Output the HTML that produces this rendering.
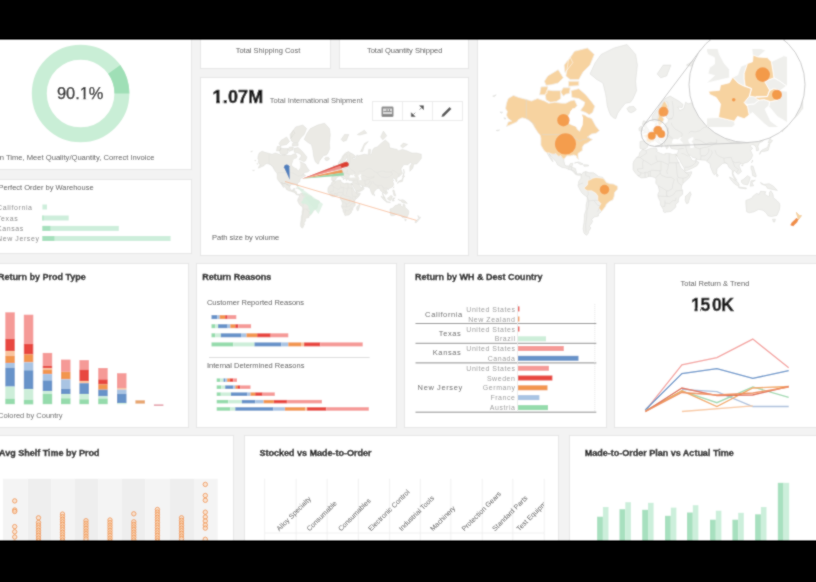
<!DOCTYPE html>
<html><head><meta charset="utf-8"><title>Dashboard</title>
<style>
html,body{margin:0;padding:0;}
body{width:816px;height:582px;overflow:hidden;background:#f3f3f3;font-family:"Liberation Sans",sans-serif;}
svg{display:block;}
</style></head><body>
<svg width="816" height="582" viewBox="0 0 816 582"><defs><filter id="bl" x="0" y="0" width="816" height="582" filterUnits="userSpaceOnUse"><feConvolveMatrix order="3" kernelMatrix="1 2 1 2 12 2 1 2 1" divisor="24" edgeMode="duplicate"/></filter></defs><g filter="url(#bl)"><rect width="816" height="582" fill="#f3f3f3"/><rect x="-19.5" y="20.5" width="211" height="149" fill="#fff" stroke="#e6e6e6" stroke-width="1"/>
<rect x="-19.5" y="179.5" width="211" height="74" fill="#fff" stroke="#e6e6e6" stroke-width="1"/>
<rect x="200.5" y="20.5" width="130" height="48" fill="#fff" stroke="#e6e6e6" stroke-width="1"/>
<rect x="339.5" y="20.5" width="129" height="48" fill="#fff" stroke="#e6e6e6" stroke-width="1"/>
<rect x="200.5" y="77.5" width="268" height="178" fill="#fff" stroke="#e6e6e6" stroke-width="1"/>
<rect x="477.5" y="20.5" width="359" height="235" fill="#fff" stroke="#e6e6e6" stroke-width="1"/>
<rect x="-19.5" y="263.5" width="208" height="164" fill="#fff" stroke="#e6e6e6" stroke-width="1"/>
<rect x="196.5" y="263.5" width="200" height="164" fill="#fff" stroke="#e6e6e6" stroke-width="1"/>
<rect x="404.5" y="263.5" width="202" height="164" fill="#fff" stroke="#e6e6e6" stroke-width="1"/>
<rect x="614.5" y="263.5" width="221" height="164" fill="#fff" stroke="#e6e6e6" stroke-width="1"/>
<rect x="-19.5" y="435.5" width="253" height="129" fill="#fff" stroke="#e6e6e6" stroke-width="1"/>
<rect x="244.5" y="435.5" width="314" height="129" fill="#fff" stroke="#e6e6e6" stroke-width="1"/>
<rect x="569.5" y="435.5" width="279" height="129" fill="#fff" stroke="#e6e6e6" stroke-width="1"/>
<circle cx="80.6" cy="93.5" r="41.3" fill="none" stroke="#c9eed6" stroke-width="15.0"/>
<path d="M114.18,69.46 A41.3,41.3 0 0 1 121.90,93.50" fill="none" stroke="#9fdfb6" stroke-width="15.0"/>
<text x="80.2" y="99.0" font-family="Liberation Sans, sans-serif" font-size="16.4" fill="#111" stroke="#111" stroke-width="0.25" text-anchor="middle">90.1%</text>
<text x="154.5" y="159.5" font-family="Liberation Sans, sans-serif" font-size="7.6" fill="#555" text-anchor="end">On Time, Meet Quality/Quantity, Correct Invoice</text>
<rect x="79.5" y="96.6" width="4" height="3.2" fill="#fff"/><rect x="85.6" y="96.6" width="3.4" height="3.2" fill="#fff"/>
<text x="93.6" y="189.6" font-family="Liberation Sans, sans-serif" font-size="7.5" fill="#555" text-anchor="end">Perfect Order by Warehouse</text>
<text x="-3" y="209.5" font-family="Liberation Sans, sans-serif" font-size="7" letter-spacing="0.6" fill="#888">California</text>
<rect x="42.4" y="204.5" width="4.6" height="5" fill="#cdeedb"/>
<text x="-3" y="220.5" font-family="Liberation Sans, sans-serif" font-size="7" letter-spacing="0.6" fill="#888">Texas</text>
<rect x="42.4" y="215.5" width="26.3" height="5" fill="#cdeedb"/>
<rect x="42.4" y="215.5" width="1.0" height="5" fill="#a6e0bd"/>
<text x="-3" y="230.9" font-family="Liberation Sans, sans-serif" font-size="7" letter-spacing="0.6" fill="#888">Kansas</text>
<rect x="42.4" y="225.9" width="76.4" height="5" fill="#cdeedb"/>
<rect x="42.4" y="225.9" width="8.0" height="5" fill="#a6e0bd"/>
<text x="-3" y="241.0" font-family="Liberation Sans, sans-serif" font-size="7" letter-spacing="0.6" fill="#888">New Jersey</text>
<rect x="42.4" y="236.0" width="128.2" height="5" fill="#cdeedb"/>
<rect x="42.4" y="236.0" width="12.0" height="5" fill="#a6e0bd"/>
<text x="268" y="53" font-family="Liberation Sans, sans-serif" font-size="7.5" fill="#555" text-anchor="middle">Total Shipping Cost</text>
<text x="404.7" y="53" font-family="Liberation Sans, sans-serif" font-size="7.5" fill="#555" text-anchor="middle">Total Quantity Shipped</text>
<text x="212.5" y="103" font-family="Liberation Sans, sans-serif" font-size="18" font-weight="bold" fill="#151515" stroke="#151515" stroke-width="0.5" letter-spacing="0.2">1.07M</text>
<rect x="211.5" y="99.7" width="4.6" height="4.3" fill="#fff"/><rect x="219.9" y="99.7" width="2.6" height="4.3" fill="#fff"/>
<text x="269.8" y="103" font-family="Liberation Sans, sans-serif" font-size="7.5" fill="#666">Total International Shipment</text>
<rect x="372.5" y="101.5" width="90" height="19" fill="#fff" stroke="#ebebeb"/>
<line x1="402.5" y1="102" x2="402.5" y2="120" stroke="#ededed"/><line x1="432.5" y1="102" x2="432.5" y2="120" stroke="#ededed"/>
<rect x="381.5" y="106.6" width="12" height="10.4" rx="1.2" fill="#8a8a8a"/><rect x="383" y="108.5" width="9" height="5.5" fill="#d8d8d8"/><rect x="383.5" y="111" width="8" height="1" fill="#8a8a8a"/><rect x="386.5" y="109" width="1" height="2" fill="#8a8a8a"/><rect x="389" y="109" width="1" height="2" fill="#8a8a8a"/>
<path d="M423.5,105.8 L423.5,109.6 L419.7,105.8 Z M419.6,109.7 L421.4,107.9" fill="#555" stroke="#555" stroke-width="0.7"/>
<path d="M411.3,116.6 L411.3,112.8 L415.1,116.6 Z M415.2,112.7 L413.4,114.5" fill="#555" stroke="#555" stroke-width="0.7"/>
<path d="M443,115.5 L450.5,108" stroke="#555" stroke-width="2.6" stroke-linecap="butt"/><path d="M441.5,117 L442.2,114.3 L444.2,116.3 Z" fill="#555"/>
<path d="M254.7,160.3L256.1,160.5L255.4,161.0ZM256.8,163.5L258.0,163.8L257.3,164.3ZM252.6,170.4L254.5,170.2L253.5,170.7ZM257.8,158.4L258.3,155.5L259.2,153.0L262.1,151.2L264.9,152.3L269.2,153.4L272.0,154.3L275.3,153.0L279.1,154.3L281.5,155.5L284.8,154.9L288.6,155.5L291.0,155.5L293.3,154.3L295.7,153.6L297.1,156.7L295.2,159.0L294.3,160.0L292.4,162.1L291.4,164.9L292.4,166.6L294.3,167.4L296.7,168.2L297.1,169.8L298.6,170.9L299.5,168.2L299.5,164.0L299.0,161.6L301.4,162.1L302.8,163.0L305.2,164.0L306.6,166.6L307.6,168.2L309.5,170.6L307.6,172.0L305.2,172.4L302.8,174.1L305.7,175.4L304.7,176.1L302.8,177.3L300.9,178.2L300.0,179.7L300.0,181.4L297.6,183.1L297.6,185.2L298.1,186.5L297.1,185.7L296.7,184.4L295.2,183.9L293.3,184.4L291.4,184.4L289.9,186.3L288.8,185.5L288.1,184.3L287.2,184.7L286.5,184.4L285.5,183.2L284.8,183.5L283.4,183.5L281.6,182.7L280.5,182.8L279.1,181.7L278.2,180.3L277.2,178.5L277.2,176.7L277.2,174.8L276.8,173.1L275.3,171.3L273.9,169.0L272.5,166.6L270.6,164.9L268.7,164.0L266.8,163.5L264.9,164.4L264.0,165.7L262.1,166.6L260.2,167.4L258.3,168.2L259.2,165.7L261.1,165.3L259.2,164.0L258.3,162.1L258.7,160.0ZM280.5,182.8L281.6,182.7L283.4,183.5L284.8,183.5L285.5,183.2L286.5,184.4L287.2,184.7L288.1,184.3L288.8,185.5L289.9,186.3L289.8,187.2L290.5,189.7L291.4,190.0L292.9,190.0L293.3,188.7L294.8,188.5L294.3,190.7L296.2,191.4L296.7,193.1L297.1,194.5L299.0,194.2L299.5,194.9L298.1,195.1L296.7,194.8L295.2,193.5L294.3,192.3L292.4,191.9L291.0,191.2L288.6,190.7L286.2,189.2L285.8,187.7L284.3,186.5L282.9,184.7L281.7,183.4L282.4,184.7L283.4,186.2L283.9,187.7L282.9,186.7L282.0,185.2L281.0,183.6ZM304.2,139.4L307.1,133.2L310.4,128.6L317.5,125.1L324.6,123.2L329.4,128.6L330.3,134.5L329.4,143.4L329.8,148.6L327.9,153.0L326.5,154.9L323.7,155.5L321.3,158.4L319.4,161.1L318.5,164.0L317.0,163.5L315.6,162.1L314.7,160.0L313.7,156.7L313.2,153.0L312.8,150.1L311.4,144.4L308.0,142.5ZM324.6,158.4L325.6,157.4L328.4,157.3L329.6,159.0L328.9,159.7L327.0,160.7L325.6,160.3ZM299.5,194.7L300.4,193.5L301.9,193.1L303.8,193.8L306.1,193.8L307.6,194.7L309.0,195.8L311.4,196.3L312.3,197.7L313.2,199.1L315.1,199.7L317.0,200.0L319.4,201.1L319.4,202.7L317.8,204.6L317.5,206.8L316.8,208.7L315.1,209.5L313.2,211.0L312.8,212.3L311.4,214.1L309.9,215.8L308.7,216.3L309.0,217.5L306.6,218.1L305.2,219.3L305.7,220.5L304.7,222.1L303.8,223.1L304.7,224.1L303.5,225.9L303.3,227.0L302.3,228.2L300.9,227.0L300.4,224.5L300.9,221.1L301.2,218.7L301.2,216.9L302.1,214.1L302.1,211.5L302.6,209.5L302.8,207.2L301.9,206.5L300.0,205.1L299.0,203.7L298.1,201.8L297.6,200.9L297.8,199.7L298.1,198.4L298.6,197.7L299.3,196.8L299.3,195.4ZM331.7,180.3L331.7,179.1L331.7,176.7L332.2,176.3L335.1,176.4L335.3,174.8L333.9,173.4L335.3,172.7L336.7,171.7L337.9,170.9L338.8,169.4L340.0,169.0L340.0,167.0L341.0,166.0L341.0,167.8L341.9,168.6L342.6,169.0L344.5,168.4L346.0,167.8L346.0,166.6L347.1,166.2L347.4,164.4L349.5,164.0L346.9,164.0L346.2,163.0L346.2,161.1L347.9,159.0L346.4,158.1L344.5,161.1L344.1,163.0L345.0,164.1L343.8,166.6L342.6,167.8L342.1,167.4L341.2,165.3L339.8,165.7L338.6,165.3L338.4,163.0L339.3,161.6L341.7,158.4L342.6,156.1L344.1,154.3L345.5,153.0L348.3,151.6L350.7,153.0L353.1,154.3L355.4,156.1L355.0,157.9L352.6,157.5L353.5,159.5L355.9,158.4L356.9,154.9L358.3,155.8L361.6,154.9L364.4,154.3L368.2,154.9L368.7,149.4L370.6,149.4L370.1,154.9L371.6,154.3L372.5,150.1L374.4,147.8L377.2,147.0L381.0,143.4L385.3,140.0L389.1,143.4L389.6,147.8L392.9,148.6L397.1,149.4L398.6,150.9L402.4,149.4L407.1,150.9L411.8,153.0L416.6,153.0L421.3,154.3L421.3,158.4L420.4,159.5L418.9,161.6L416.6,164.0L413.7,164.1L413.3,166.2L412.8,168.2L409.9,171.3L409.9,166.2L411.8,163.5L410.4,162.3L408.0,164.7L403.8,164.6L400.9,169.0L402.4,173.4L399.0,176.7L397.6,177.0L396.7,179.1L397.1,181.3L396.0,181.7L395.7,180.0L395.0,178.7L393.4,178.1L392.4,179.1L393.8,180.3L392.6,181.4L393.4,183.1L393.8,184.2L392.9,186.2L391.2,187.7L388.4,188.7L387.2,188.5L386.2,190.0L387.7,193.1L385.8,194.6L384.8,193.8L383.6,192.3L382.9,194.0L383.6,195.6L385.1,197.9L383.9,197.3L382.7,194.9L382.5,192.1L380.8,190.9L379.8,188.7L378.7,188.2L377.0,188.7L376.3,189.5L374.2,191.4L373.9,193.8L372.7,194.9L372.0,194.0L370.6,190.7L370.4,188.7L369.2,188.0L367.8,186.8L365.2,186.6L363.0,186.3L362.8,185.7L360.6,185.2L359.7,184.2L358.8,184.2L359.9,186.0L360.4,187.0L361.6,187.2L362.5,186.7L362.7,186.1L362.8,187.2L364.2,188.0L363.3,189.7L360.6,191.2L357.3,192.7L356.4,192.6L356.1,191.2L354.5,188.5L353.8,187.0L352.6,185.2L352.4,184.4L351.4,184.2L351.4,183.5L352.4,183.4L352.6,182.5L353.1,181.0L351.6,180.8L350.2,180.6L348.8,180.3L348.3,178.5L346.9,178.5L347.4,179.7L346.4,180.6L346.0,179.4L345.2,178.2L345.2,177.3L343.6,176.4L342.4,175.1L341.8,175.4L342.6,177.0L343.6,177.6L344.8,178.4L343.8,179.1L343.6,179.7L343.4,178.5L341.7,177.3L341.0,176.7L340.0,175.9L338.8,176.7L337.4,176.5L337.4,177.3L336.0,178.8L335.8,179.7L335.1,180.5L333.4,180.9ZM327.9,188.7L328.4,187.2L329.8,185.5L331.3,184.4L331.5,182.8L333.2,181.0L335.1,181.4L337.4,180.4L340.7,180.1L341.2,181.4L340.7,182.0L343.1,183.1L345.5,183.9L345.5,183.1L347.9,183.1L349.7,183.7L351.4,183.5L352.4,184.4L351.4,184.7L352.6,187.2L353.8,190.0L354.5,191.4L356.4,192.8L357.1,193.8L360.2,193.1L360.2,194.0L359.0,196.3L357.3,197.9L355.4,199.5L354.7,200.9L354.5,202.3L355.2,203.4L355.2,205.6L353.3,207.2L352.8,208.7L352.8,210.0L351.4,211.0L351.4,212.5L350.2,213.8L348.8,215.0L346.4,215.3L345.5,215.7L344.7,215.2L344.5,213.8L343.1,211.5L342.9,209.5L341.7,207.0L341.6,205.6L342.4,203.9L342.2,202.5L341.7,200.9L340.5,199.5L340.5,198.1L340.6,197.0L340.0,196.5L338.4,195.8L336.7,195.7L335.1,196.4L332.4,196.6L330.5,195.4L329.6,194.2L328.9,193.5L327.9,191.9ZM390.0,209.0L390.0,211.0L390.5,215.2L391.9,215.8L394.5,215.2L397.1,213.8L399.5,214.4L401.2,215.8L402.4,217.5L404.3,217.8L405.7,217.5L407.1,217.2L408.5,214.1L408.8,212.0L408.5,210.5L407.3,209.2L405.2,207.5L405.0,205.6L403.8,203.7L403.1,204.6L403.1,206.5L402.4,206.8L400.5,205.6L400.9,204.1L398.1,203.9L397.4,205.6L396.0,205.1L393.8,206.8L393.4,207.7L391.5,208.5ZM306.8,157.3L305.7,160.6L303.8,161.8L301.9,160.6L299.0,159.5L300.9,156.7L301.4,154.9L298.1,153.0L294.3,152.3L293.8,148.6L298.1,147.5L301.9,150.9L304.7,154.3L306.6,156.7ZM279.6,150.9L280.5,148.1L283.9,148.6L288.1,148.6L288.1,153.0L285.8,154.5L282.4,154.9L280.1,153.6ZM276.5,150.9L277.2,146.5L281.0,146.3L280.5,150.1L279.1,150.9ZM293.3,142.5L298.1,142.5L300.4,138.2L304.2,134.5L306.6,128.6L302.8,125.1L295.7,126.9L292.4,131.7L291.0,140.4ZM292.4,143.4L298.1,143.4L298.1,145.8L292.4,146.1ZM279.1,143.4L281.0,140.4L286.7,137.0L289.5,141.5L286.7,144.4L282.9,145.3L280.1,145.6ZM290.5,138.7L294.8,133.2L293.3,130.2L290.0,134.5ZM288.1,149.4L289.5,147.0L293.3,147.0L292.9,150.1L291.0,150.4L289.5,151.6ZM294.8,158.4L297.6,159.5L296.7,161.6L295.2,160.6ZM359.4,204.1L359.9,205.8L359.5,206.5L358.8,209.0L358.3,210.5L357.3,210.7L356.6,209.0L356.9,206.5L357.8,205.9L358.8,204.9ZM333.4,172.0L336.7,171.3L336.7,170.2L336.0,169.4L335.3,168.2L335.1,167.4L335.1,166.1L334.3,165.2L333.6,165.2L333.1,167.0L333.6,168.2L334.6,168.6L334.6,169.5L333.9,170.0L333.6,170.8L334.6,171.0ZM333.2,170.6L333.2,169.0L332.4,168.0L331.3,169.0L331.3,170.6L332.2,170.9ZM397.6,183.6L398.6,182.0L400.0,182.0L402.4,181.4L402.8,179.7L403.3,177.6L402.4,178.2L402.1,179.7L400.9,180.3L399.0,181.1L397.9,182.3ZM402.4,177.3L403.1,175.1L404.7,176.1L403.8,177.3ZM381.0,196.1L382.5,196.8L385.3,198.6L386.2,200.0L386.2,201.4L383.9,200.0L381.5,197.2ZM386.0,201.6L390.3,202.1L390.3,202.6L386.2,202.1ZM387.7,197.9L388.6,197.5L391.0,195.4L392.4,196.3L391.9,198.1L391.0,200.4L388.6,200.0L387.7,199.1ZM392.4,201.1L392.9,198.1L395.2,197.9L393.4,199.1L394.3,200.9ZM398.1,199.1L400.0,200.2L402.8,199.7L405.2,201.1L407.3,203.4L403.8,202.7L401.9,202.3L401.2,200.9L398.6,200.0ZM392.9,190.0L394.1,190.2L394.8,192.8L395.7,195.4L395.5,196.1L393.8,195.4L393.4,192.6L392.9,191.6ZM404.7,219.3L406.3,219.3L405.9,220.8L405.2,220.8ZM373.9,194.1L374.9,195.1L374.4,195.8L373.9,195.6ZM360.6,151.6L362.1,148.6L364.4,143.4L368.2,141.5L364.4,146.1L362.5,151.6ZM341.2,139.4L344.5,134.5L348.8,134.5L346.4,140.4L343.1,141.5ZM295.7,188.3L298.1,187.7L300.4,189.0L299.0,189.2L297.1,188.0ZM300.7,189.3L303.3,189.5L303.5,190.0L300.9,190.2ZM403.3,174.8L404.0,172.0L403.5,169.0L403.8,169.8L404.3,172.7L403.7,174.8ZM393.1,188.2L393.8,186.7L393.6,187.7ZM388.1,190.1L388.6,189.3L387.6,189.5ZM357.3,134.5L364.4,130.2L366.8,133.2L359.7,135.1ZM380.6,137.0L383.4,131.1L386.7,135.8L382.9,139.8ZM400.5,146.1L403.3,143.1L407.6,144.4L402.8,147.8ZM250.7,151.6L252.6,150.9L251.6,151.9ZM417.9,215.5L419.4,217.2L420.6,217.3L419.9,218.4L418.9,219.6L418.7,218.1L418.2,216.9ZM417.9,219.0L418.6,219.6L418.0,220.8L417.1,221.8L416.1,222.8L414.9,222.4L415.6,221.1L417.1,219.9Z" fill="#ebeae5" stroke="#d5d5d0" stroke-width="0.4"/>
<path d="M358.3,175.4L359.7,174.4L361.1,174.1L361.1,175.4L360.2,176.7L361.1,177.6L361.6,179.7L359.7,180.3L359.2,179.4L359.5,178.2L358.5,176.7ZM349.3,177.6L349.5,176.4L350.2,175.1L351.6,175.1L352.6,175.4L354.0,174.1L354.7,174.1L353.8,175.6L355.7,177.6L353.1,177.6L350.9,177.8ZM293.3,160.0L292.6,164.0L293.8,167.0L296.7,168.4L298.6,170.2L300.2,167.4L300.4,163.5L299.5,161.1L297.1,158.4L294.8,158.4Z" fill="#fff"/>
<path d="M335.2,181.4L335.3,183.1L331.9,185.2L331.9,185.4L329.8,185.4M331.9,185.4L333.6,186.7L333.2,188.5L333.4,191.4L330.3,191.6M333.6,186.7L336.9,188.7L337.9,189.5L341.7,187.5M340.5,184.2L340.7,186.7L341.7,187.5M347.9,183.4L347.9,188.2L353.5,188.2M347.9,188.2L347.4,189.2L343.6,187.5L341.7,187.5M343.3,187.7L343.3,192.6L342.6,192.8M337.4,195.6L337.4,193.1L337.9,192.3L342.6,192.6L342.9,194.0L341.7,195.4L340.3,196.5M347.4,189.2L347.1,191.4L346.4,192.8L346.9,194.5M342.9,194.0L343.6,195.1L346.4,196.3L349.0,196.3M351.6,188.2L352.1,194.0L352.6,196.3L355.4,196.8M356.4,193.3L358.8,194.9L357.3,196.3L355.4,196.8L355.4,199.3M352.1,196.5L352.6,199.1L354.7,200.7M341.7,200.9L344.3,202.3L346.4,203.7L347.4,203.7L349.5,202.5L349.7,200.4L350.2,198.6L350.7,197.5L349.0,196.3M341.6,206.5L345.5,206.8L347.1,206.8M346.4,203.7L346.4,206.5L347.9,206.9L350.2,205.8L351.6,203.7L355.2,203.4M345.5,209.0L345.5,210.3L348.1,210.7L350.0,209.0L351.2,209.2L351.6,207.5M344.1,212.3L345.5,212.3L345.5,210.3M330.3,191.6L330.5,192.8L332.2,193.8L333.6,194.0L334.6,193.5L336.0,193.5L336.7,192.8L337.4,193.1M334.6,196.3L334.6,193.5M336.5,195.8L336.2,193.5M330.5,195.4L332.2,194.9L332.2,193.8M349.5,164.0L350.2,162.1L350.0,157.3L349.5,154.3M347.4,157.9L347.1,154.9L345.7,154.3M341.2,164.9L341.7,163.0L342.6,159.0L344.5,154.9L345.5,154.3M349.0,166.2L349.3,167.4L351.2,169.8L352.1,170.2L355.0,172.0L355.0,173.4L354.0,174.1M347.4,170.9L346.7,172.7L348.3,173.4L350.0,175.1M358.5,172.0L359.7,170.9L362.1,171.3L364.9,170.6L366.3,169.0L369.2,168.2L372.0,169.0L373.9,171.3L377.2,172.7M377.2,172.7L379.6,171.7L382.5,170.9L386.2,172.0L391.0,172.0L392.9,170.2L396.2,172.0L398.1,173.8L399.5,173.4L398.1,176.7M377.2,172.7L379.1,175.4L381.5,177.0L385.8,177.6L389.1,177.0L392.9,174.1L391.0,172.0M373.9,175.4L373.9,177.3L370.8,178.8L368.2,179.7L367.3,179.7L364.4,180.6L362.1,179.7L361.6,177.6M362.1,175.4L364.4,175.7L368.2,177.9L370.1,177.0L373.9,177.3M356.9,178.8L357.1,180.3L357.8,182.5L358.8,184.2M353.1,180.6L355.9,180.3M354.5,183.1L355.9,183.4L358.3,184.7M356.4,190.7L358.3,190.7L360.6,189.7L362.3,188.2L362.5,187.2M364.9,180.3L364.9,183.6L365.4,184.4L365.2,186.7M369.7,180.3L369.7,182.0L368.9,183.4L367.5,184.4L365.4,184.4M371.1,181.4L371.6,182.8L370.1,185.5L369.2,186.2L368.7,187.2M373.0,181.1L373.9,183.6L375.8,184.9L377.9,185.7L379.6,185.5L382.0,185.2M382.0,185.2L382.7,187.2L384.1,188.2L386.5,187.9L387.2,188.5M382.7,187.2L383.4,189.0L383.9,190.4L386.0,191.9L384.8,193.8M377.9,185.7L378.2,188.2L379.8,188.7M301.9,193.1L301.9,195.4L304.0,195.8L304.2,197.7M298.1,200.2L300.4,199.3M303.1,203.7L303.3,205.6L302.6,207.0L303.5,209.0L303.5,211.5L302.6,214.7L302.3,218.7L301.9,222.4L302.1,226.6M308.5,209.0L306.4,209.0L308.5,211.7L309.7,211.7L308.5,215.2M303.5,209.2L306.4,209.0M292.4,191.9L292.9,190.4L293.8,190.3L294.1,191.2L293.8,192.1L295.2,192.6L296.2,193.5L296.7,194.7M277.7,172.7L291.0,172.7L293.8,173.4L296.7,175.1L298.6,176.4L300.4,175.4L302.3,175.4L303.3,173.8L304.2,175.4M269.2,153.4L269.2,163.7L271.1,164.9L274.4,167.8M336.9,171.3L338.8,172.0L339.8,173.8L342.6,174.1L344.1,173.1L346.4,173.1L349.3,175.1M339.8,173.8L339.3,176.1L337.4,177.0M342.6,169.0L343.1,171.3L341.7,172.0L342.4,173.1M347.4,169.0L347.4,172.0L346.7,172.7" fill="none" stroke="#dcdcd9" stroke-width="0.35"/>
<path d="M307.6,196.3L311.4,196.8L312.3,197.7L313.2,199.1L315.1,199.7L317.0,200.0L319.4,201.1L319.4,202.7L317.8,204.6L317.5,206.8L316.8,208.7L315.1,209.5L313.2,211.0L312.8,212.3L310.6,215.0L309.0,213.0L310.2,210.7L308.5,209.0L308.5,206.5L307.3,204.9L305.2,203.7L302.8,203.7L301.6,203.0L300.9,202.1L302.8,200.4L303.1,197.9L304.2,197.7L305.7,196.8Z" fill="#d7efdf" opacity="0.9"/>
<path d="M295,184 L323,204 L318.5,214 Z" fill="#d6eedd" opacity="0.7"/>
<path d="M285,181.5 L416.5,220.4" stroke="#f7b890" stroke-width="0.8" fill="none"/>
<path d="M302,178.7 L345.5,161.8 A2.6,2.6 0 0 1 347,166.8 Z" fill="#dc3f33"/>
<path d="M302,178.7 L340.5,165.5 L342,169 Z" fill="#f2a19a" opacity="0.8"/>
<path d="M302,178.7 L342,169.8 L343,172.8 Z" fill="#f0954f"/>
<path d="M302,178.7 L343.5,172.6 L344,175.6 Z" fill="#98d6a8"/>
<path d="M289.8,179.8 L283.9,167.2 A2.9,2.9 0 0 1 289.4,166.2 Z" fill="#4f7fbd"/>
<text x="212" y="240" font-family="Liberation Sans, sans-serif" font-size="7.5" fill="#555">Path size by volume</text>
<path d="M500.0,111.9L502.6,112.3L501.3,113.2ZM503.9,117.8L506.1,118.3L504.8,119.3ZM496.2,130.4L499.6,130.0L497.9,130.9ZM505.6,108.6L506.5,103.3L508.2,98.6L513.4,95.4L518.6,97.4L526.3,99.4L531.5,101.0L537.5,98.6L544.4,101.0L548.7,103.3L554.7,102.2L561.6,103.3L565.9,103.3L570.2,101.0L574.5,99.9L577.1,105.5L573.7,109.6L571.9,111.5L568.5,115.2L566.8,120.3L568.5,123.4L571.9,125.0L576.2,126.4L577.1,129.3L579.7,131.3L581.4,126.4L581.4,118.6L580.5,114.3L584.8,115.2L587.4,117.0L591.7,118.6L594.3,123.4L596.0,126.4L599.5,130.6L596.0,133.3L591.7,133.9L587.4,137.1L592.6,139.5L590.9,140.6L587.4,142.9L584.0,144.6L582.3,147.3L582.3,150.4L578.0,153.4L578.0,157.3L578.8,159.6L577.1,158.2L576.2,155.8L573.7,154.9L570.2,155.8L566.8,155.8L564.0,159.2L562.0,157.7L560.7,155.5L559.0,156.3L557.7,155.8L556.0,153.6L554.7,154.1L552.1,154.1L548.9,152.7L547.0,152.9L544.4,150.9L542.7,148.3L540.9,145.1L540.9,141.8L540.9,138.3L540.1,135.2L537.5,132.0L534.9,127.9L532.3,123.4L528.9,120.3L525.4,118.6L522.0,117.8L518.6,119.5L516.8,121.9L513.4,123.4L509.9,125.0L506.5,126.4L508.2,121.9L511.7,121.1L508.2,118.6L506.5,115.2L507.4,111.5ZM547.0,152.9L548.9,152.7L552.1,154.1L554.7,154.1L556.0,153.6L557.7,155.8L559.0,156.3L560.7,155.5L562.0,157.7L564.0,159.2L563.8,161.0L565.0,165.5L566.8,165.9L569.3,165.9L570.2,163.7L572.8,163.2L571.9,167.2L575.4,168.5L576.2,171.5L577.1,174.1L580.5,173.6L581.4,174.9L578.8,175.3L576.2,174.7L573.7,172.4L571.9,170.2L568.5,169.4L565.9,168.1L561.6,167.2L557.3,164.6L556.4,161.9L553.9,159.6L551.3,156.3L549.1,153.9L550.4,156.3L552.1,159.1L553.0,161.9L551.3,160.0L549.5,157.3L547.8,154.4ZM590.0,73.9L595.2,62.7L601.2,54.4L614.1,48.0L627.0,44.5L635.6,54.4L637.4,65.1L635.6,81.3L636.5,90.7L633.1,98.6L630.5,102.2L625.3,103.3L621.0,108.6L617.6,113.4L615.8,118.6L613.3,117.8L610.7,115.2L609.0,111.5L607.2,105.5L606.4,98.6L605.5,93.5L602.9,83.0L596.9,79.6ZM627.0,108.6L628.8,106.8L633.9,106.5L636.1,109.6L634.8,111.0L631.3,112.7L628.8,111.9ZM581.4,174.5L583.1,172.4L585.7,171.5L589.2,172.8L593.5,172.8L596.0,174.5L598.6,176.6L602.9,177.4L604.7,179.9L606.4,182.4L609.8,183.7L613.3,184.1L617.6,186.2L617.6,189.1L614.6,192.5L614.1,196.4L612.8,200.0L609.8,201.3L606.4,204.1L605.5,206.4L602.9,209.8L600.3,212.8L598.2,213.8L598.6,215.9L594.3,217.0L591.7,219.2L592.6,221.4L590.9,224.3L589.2,226.1L590.9,228.0L588.7,231.2L588.3,233.2L586.6,235.3L584.0,233.2L583.1,228.6L584.0,222.6L584.4,218.1L584.4,214.9L586.1,209.8L586.1,205.0L587.0,201.3L587.4,197.3L585.7,196.0L582.3,193.4L580.5,190.8L578.8,187.5L578.0,185.8L578.4,183.7L578.8,181.2L579.7,179.9L581.0,178.3L581.0,175.7ZM640.0,148.3L640.0,146.2L640.0,141.8L640.8,141.0L646.0,141.3L646.4,138.3L643.8,135.8L646.4,134.6L649.0,132.6L651.1,131.3L652.9,128.6L655.0,127.9L655.0,124.2L656.7,122.4L656.7,125.7L658.5,127.2L659.8,127.9L663.2,126.7L665.8,125.7L665.8,123.4L667.9,122.7L668.4,119.5L672.2,118.6L667.5,118.6L666.2,117.0L666.2,113.4L669.2,109.6L666.6,108.0L663.2,113.4L662.3,117.0L664.1,119.0L661.9,123.4L659.8,125.7L658.7,125.0L657.2,121.1L654.6,121.9L652.4,121.1L652.0,117.0L653.7,114.3L658.0,108.6L659.8,104.4L662.3,101.0L664.9,98.6L670.1,96.1L674.4,98.6L678.7,101.0L683.0,104.4L682.1,107.6L677.8,107.0L679.6,110.6L683.9,108.6L685.6,102.2L688.2,103.8L694.2,102.2L699.4,101.0L706.2,102.2L707.1,92.1L710.6,92.1L709.7,102.2L712.3,101.0L714.0,93.5L717.4,89.3L722.6,87.8L729.5,81.3L737.2,75.1L744.1,81.3L745.0,89.3L751.0,90.7L758.8,92.1L761.4,94.8L768.2,92.1L776.9,94.8L785.5,98.6L794.1,98.6L802.7,101.0L802.7,108.6L801.0,110.6L798.4,114.3L794.1,118.6L788.9,119.0L788.0,122.7L787.2,126.4L782.0,132.0L782.0,122.7L785.5,117.8L782.9,115.6L778.6,120.0L770.8,119.8L765.7,127.9L768.2,135.8L762.2,141.8L759.6,142.4L757.9,146.2L758.8,150.2L756.6,150.9L756.2,147.8L754.9,145.4L751.9,144.3L750.2,146.2L752.7,148.3L750.6,150.4L751.9,153.4L752.7,155.3L751.0,159.1L748.0,161.9L742.8,163.7L740.7,163.2L739.0,165.9L741.5,171.5L738.1,174.3L736.4,172.8L734.2,170.2L732.9,173.2L734.2,176.2L736.8,180.3L734.7,179.3L732.5,174.9L732.1,169.8L729.1,167.6L727.3,163.7L725.2,162.8L722.2,163.7L720.9,165.0L717.0,168.5L716.6,172.8L714.4,174.9L713.1,173.2L710.6,167.2L710.1,163.7L708.0,162.3L705.4,160.2L700.7,159.9L696.8,159.3L696.3,158.2L692.5,157.3L690.8,155.3L689.0,155.3L691.2,158.7L692.0,160.5L694.2,161.0L695.9,160.0L696.2,158.8L696.3,161.0L698.9,162.3L697.2,165.5L692.5,168.1L686.4,170.8L684.7,170.7L684.3,168.1L681.3,163.2L680.0,160.5L677.8,157.3L677.4,155.8L675.7,155.3L675.7,154.2L677.4,153.9L677.8,152.4L678.7,149.6L676.1,149.2L673.5,148.9L670.9,148.3L670.1,145.1L667.5,145.1L668.4,147.3L666.6,148.9L665.8,146.7L664.5,144.6L664.5,142.9L661.5,141.2L659.3,138.9L658.3,139.5L659.8,142.4L661.5,143.5L663.6,144.9L661.9,146.2L661.5,147.3L661.1,145.1L658.0,142.9L656.7,141.8L655.0,140.3L652.9,141.8L650.3,141.4L650.3,142.9L647.7,145.7L647.3,147.3L646.0,148.6L643.0,149.4ZM633.1,163.7L633.9,161.0L636.5,157.7L639.1,155.8L639.5,152.9L642.5,149.6L646.0,150.3L650.3,148.5L656.3,148.0L657.2,150.4L656.3,151.4L660.6,153.4L664.9,154.9L664.9,153.4L669.2,153.4L672.7,154.5L675.7,154.2L677.4,155.8L675.7,156.3L677.8,161.0L680.0,165.9L681.3,168.5L684.7,171.1L686.0,172.8L691.6,171.7L691.6,173.2L689.5,177.4L686.4,180.3L683.0,183.3L681.7,185.8L681.3,188.3L682.6,190.4L682.6,194.3L679.1,197.3L678.3,200.0L678.3,202.2L675.7,204.1L675.7,206.9L673.5,209.3L670.9,211.4L666.6,212.0L664.9,212.6L663.5,211.8L663.2,209.3L660.6,205.0L660.2,201.3L658.0,196.9L657.9,194.3L659.3,191.3L658.9,188.7L658.0,185.8L655.9,183.3L655.9,180.8L656.1,178.7L655.0,177.8L652.0,176.6L649.0,176.4L646.0,177.6L641.2,177.9L637.8,175.7L636.1,173.6L634.8,172.4L633.1,169.4ZM745.9,200.4L745.9,204.1L746.7,211.8L749.3,212.8L754.0,211.8L758.8,209.3L763.1,210.3L766.1,212.8L768.2,215.9L771.7,216.5L774.3,215.9L776.9,215.4L779.4,209.8L779.9,205.9L779.4,203.2L777.3,200.9L773.4,197.7L773.0,194.3L770.8,190.8L769.5,192.5L769.5,196.0L768.2,196.4L764.8,194.3L765.7,191.7L760.5,191.3L759.2,194.3L756.6,193.4L752.7,196.4L751.9,198.2L748.4,199.5ZM594.7,106.5L592.6,112.5L589.2,114.7L585.7,112.5L580.5,110.6L584.0,105.5L584.8,102.2L578.8,98.6L571.9,97.4L571.1,90.7L578.8,88.7L585.7,94.8L590.9,101.0L594.3,105.5ZM545.2,94.8L547.0,89.9L553.0,90.7L560.7,90.7L560.7,98.6L556.4,101.5L550.4,102.2L546.1,99.9ZM539.6,94.8L540.9,86.9L547.8,86.6L547.0,93.5L544.4,94.8ZM570.2,79.6L578.8,79.6L583.1,71.9L590.0,65.1L594.3,54.4L587.4,48.0L574.5,51.3L568.5,60.1L565.9,75.9ZM568.5,81.3L578.8,81.3L578.8,85.6L568.5,86.3ZM544.4,81.3L547.8,75.9L558.2,69.7L563.3,77.8L558.2,83.0L551.3,84.7L546.1,85.3ZM565.0,72.7L572.8,62.7L570.2,57.3L564.2,65.1ZM560.7,92.1L563.3,87.8L570.2,87.8L569.3,93.5L565.9,94.1L563.3,96.1ZM572.8,108.6L578.0,110.6L576.2,114.3L573.7,112.5ZM690.1,191.7L691.2,194.7L690.3,196.0L689.0,200.4L688.2,203.2L686.4,203.6L685.2,200.4L685.6,196.0L687.3,195.0L689.0,193.0ZM643.0,133.3L649.0,132.0L649.0,130.0L647.7,128.6L646.4,126.4L646.0,125.0L646.2,122.5L644.7,120.9L643.4,120.9L642.4,124.2L643.4,126.4L645.1,127.2L645.1,128.7L643.8,129.5L643.4,131.0L645.1,131.4ZM642.5,130.6L642.5,127.9L641.2,126.0L639.1,127.9L639.1,130.6L640.8,131.3ZM759.6,154.4L761.4,151.4L763.9,151.4L768.2,150.4L769.1,147.3L770.0,143.5L768.2,144.6L767.8,147.3L765.7,148.3L762.2,149.9L760.1,151.9ZM768.2,142.9L769.5,138.9L772.5,140.6L770.8,142.9ZM729.5,177.0L732.1,178.3L737.2,181.6L739.0,184.1L739.0,186.6L734.7,184.1L730.4,179.1ZM738.5,187.0L746.3,187.9L746.3,188.9L739.0,187.9ZM741.5,180.3L743.3,179.5L747.6,175.7L750.2,177.4L749.3,180.8L747.6,184.9L743.3,184.1L741.5,182.4ZM750.2,186.2L751.0,180.8L755.3,180.3L751.9,182.4L753.6,185.8ZM760.5,182.4L763.9,184.5L769.1,183.7L773.4,186.2L777.3,190.4L770.8,189.1L767.4,188.3L766.1,185.8L761.4,184.1ZM751.0,165.9L753.2,166.3L754.5,171.1L756.2,175.7L755.8,177.0L752.7,175.7L751.9,170.7L751.0,168.9ZM772.5,219.2L775.4,219.2L774.7,222.0L773.4,222.0ZM716.6,173.4L718.3,175.3L717.4,176.6L716.6,176.2ZM692.5,96.1L695.1,90.7L699.4,81.3L706.2,77.8L699.4,86.3L695.9,96.1ZM657.2,73.9L663.2,65.1L670.9,65.1L666.6,75.9L660.6,77.8ZM574.5,163.0L578.8,161.9L583.1,164.1L580.5,164.6L577.1,162.3ZM583.6,164.7L588.3,165.0L588.7,165.9L584.0,166.3ZM770.0,138.3L771.3,133.3L770.4,127.9L770.8,129.3L771.7,134.6L770.7,138.3ZM751.5,162.8L752.7,160.0L752.3,161.9ZM742.4,166.2L743.3,164.7L741.4,165.0ZM686.4,65.1L699.4,57.3L703.7,62.7L690.8,66.1ZM728.6,69.7L733.8,59.0L739.8,67.5L732.9,74.7ZM764.8,86.3L770.0,80.7L777.7,83.0L769.1,89.3ZM492.7,96.1L496.2,94.8L494.4,96.7ZM796.4,212.3L799.2,215.4L801.4,215.6L800.1,217.5L798.4,219.7L797.9,217.0L797.1,214.9ZM796.4,218.6L797.8,219.7L796.7,222.0L794.9,223.7L793.2,225.6L791.1,224.9L792.3,222.6L794.9,220.3Z" fill="#efefec" stroke="#d6d6d3" stroke-width="0.5"/>
<path d="M505.6,108.6L506.5,103.3L508.2,98.6L513.4,95.4L518.6,97.4L526.3,99.4L531.5,101.0L537.5,98.6L544.4,101.0L548.7,103.3L554.7,102.2L561.6,103.3L565.9,103.3L570.2,101.0L574.5,99.9L577.1,105.5L573.7,109.6L571.9,111.5L568.5,115.2L566.8,120.3L568.5,123.4L571.9,125.0L576.2,126.4L577.1,129.3L579.7,131.3L581.4,126.4L581.4,118.6L580.5,114.3L584.8,115.2L587.4,117.0L591.7,118.6L594.3,123.4L596.0,126.4L599.5,130.6L596.0,133.3L591.7,133.9L587.4,137.1L592.6,139.5L590.9,140.6L587.4,142.9L584.0,144.6L582.3,147.3L582.3,150.4L578.0,153.4L578.0,157.3L578.8,159.6L577.1,158.2L576.2,155.8L573.7,154.9L570.2,155.8L566.8,155.8L564.0,159.2L562.0,157.7L560.7,155.5L559.0,156.3L557.7,155.8L556.0,153.6L554.7,154.1L552.1,154.1L548.9,152.7L547.0,152.9L544.4,150.9L542.7,148.3L540.9,145.1L540.9,141.8L540.9,138.3L540.1,135.2L537.5,132.0L534.9,127.9L532.3,123.4L528.9,120.3L525.4,118.6L522.0,117.8L518.6,119.5L516.8,121.9L513.4,123.4L509.9,125.0L506.5,126.4L508.2,121.9L511.7,121.1L508.2,118.6L506.5,115.2L507.4,111.5ZM594.7,106.5L592.6,112.5L589.2,114.7L585.7,112.5L580.5,110.6L584.0,105.5L584.8,102.2L578.8,98.6L571.9,97.4L571.1,90.7L578.8,88.7L585.7,94.8L590.9,101.0L594.3,105.5ZM545.2,94.8L547.0,89.9L553.0,90.7L560.7,90.7L560.7,98.6L556.4,101.5L550.4,102.2L546.1,99.9ZM539.6,94.8L540.9,86.9L547.8,86.6L547.0,93.5L544.4,94.8ZM570.2,79.6L578.8,79.6L583.1,71.9L590.0,65.1L594.3,54.4L587.4,48.0L574.5,51.3L568.5,60.1L565.9,75.9ZM568.5,81.3L578.8,81.3L578.8,85.6L568.5,86.3ZM544.4,81.3L547.8,75.9L558.2,69.7L563.3,77.8L558.2,83.0L551.3,84.7L546.1,85.3ZM565.0,72.7L572.8,62.7L570.2,57.3L564.2,65.1ZM560.7,92.1L563.3,87.8L570.2,87.8L569.3,93.5L565.9,94.1L563.3,96.1ZM572.8,108.6L578.0,110.6L576.2,114.3L573.7,112.5ZM596.0,177.4L602.9,178.3L604.7,179.9L606.4,182.4L609.8,183.7L613.3,184.1L617.6,186.2L617.6,189.1L614.6,192.5L614.1,196.4L612.8,200.0L609.8,201.3L606.4,204.1L605.5,206.4L601.6,211.5L598.6,207.9L600.8,203.6L597.8,200.4L597.8,196.0L595.6,193.0L591.7,190.8L587.4,190.8L585.3,189.6L584.0,187.9L587.4,184.9L587.9,180.3L590.0,179.9L592.6,178.3ZM657.2,120.5L658.5,124.7L659.8,125.7L661.9,123.4L664.1,119.0L662.3,117.0L663.2,113.4L666.6,108.0L668.4,107.6L664.9,101.0L663.2,102.2L660.6,107.6L658.0,113.4L658.5,117.0ZM643.6,135.2L646.4,135.0L646.7,133.7L649.0,133.2L649.9,131.8L651.3,133.3L652.7,133.9L654.8,134.6L654.2,136.3L652.9,137.9L653.7,138.9L654.2,140.9L652.9,141.8L651.1,141.2L650.3,142.4L646.2,141.4L646.7,138.3L645.5,136.7L643.8,136.0ZM652.9,130.9L653.7,128.6L655.0,128.1L655.2,126.6L656.5,127.0L658.9,127.2L659.9,128.1L660.3,130.0L660.6,132.0L658.2,132.9L659.5,135.0L658.9,136.5L656.3,136.7L654.2,136.3L654.8,134.6L653.1,133.9L652.9,132.2ZM655.9,136.9L656.0,136.5L658.9,136.5L659.5,135.1L660.6,134.6L662.3,135.1L662.3,136.2L661.6,137.3L659.8,137.7L658.0,137.2L656.7,137.3Z" fill="#f7d3a0" stroke="#fff" stroke-width="0.5"/>
<path d="M688.2,139.5L690.8,137.7L693.3,137.1L693.3,139.5L691.6,141.8L693.3,143.5L694.2,147.3L690.8,148.3L689.9,146.7L690.3,144.6L688.6,141.8ZM671.8,143.5L672.2,141.2L673.5,138.9L676.1,138.9L677.8,139.5L680.4,137.1L681.7,137.1L680.0,139.8L683.4,143.5L678.7,143.4L674.8,143.8ZM570.2,111.5L568.9,118.6L571.1,124.2L576.2,126.7L579.7,130.0L582.7,125.0L583.1,117.8L581.4,113.4L577.1,108.6L572.8,108.6Z" fill="#fff"/>
<path d="M646.2,150.4L646.4,153.4L640.2,157.3L640.2,157.5L636.5,157.5M640.2,157.5L643.4,160.0L642.5,163.2L643.0,168.5L637.4,168.9M643.4,160.0L649.4,163.7L651.1,165.0L658.0,161.4M655.9,155.3L656.3,160.0L658.0,161.4M669.2,153.9L669.2,162.8L679.6,162.8M669.2,162.8L668.4,164.6L661.5,161.4L658.0,161.4M661.0,161.9L661.0,170.7L659.8,171.1M650.3,176.2L650.3,171.5L651.1,170.2L659.8,170.7L660.2,173.2L658.0,175.7L655.4,177.8M668.4,164.6L667.9,168.5L666.6,171.1L667.5,174.1M660.2,173.2L661.5,175.3L666.6,177.4L671.4,177.4M676.1,162.8L677.0,173.2L677.8,177.4L683.0,178.3M684.7,171.9L689.0,174.9L686.4,177.4L683.0,178.3L683.0,182.9M677.0,177.8L677.8,182.4L681.7,185.4M658.0,185.8L662.8,188.3L666.6,190.8L668.4,190.8L672.2,188.7L672.7,184.9L673.5,181.6L674.4,179.5L671.4,177.4M657.9,196.0L664.9,196.4L667.9,196.4M666.6,190.8L666.6,196.0L669.2,196.7L673.5,194.7L676.1,190.8L682.6,190.4M664.9,200.4L664.9,202.9L669.7,203.6L673.1,200.4L675.3,200.9L676.1,197.7M662.3,206.4L664.9,206.4L664.9,202.9M637.4,168.9L637.8,171.1L640.8,172.8L643.4,173.2L645.1,172.4L647.7,172.4L649.0,171.1L650.3,171.5M645.1,177.4L645.1,172.4M648.6,176.6L648.1,172.4M637.8,175.7L640.8,174.9L640.8,172.8M672.2,118.6L673.5,115.2L673.1,106.5L672.2,101.0M668.4,107.6L667.9,102.2L665.4,101.0M657.2,120.3L658.0,117.0L659.8,109.6L663.2,102.2L664.9,101.0M671.4,122.7L671.8,125.0L675.3,129.3L677.0,130.0L682.1,133.3L682.1,135.8L680.4,137.1M668.4,131.3L667.1,134.6L670.1,135.8L673.1,138.9M688.6,133.3L690.8,131.3L695.1,132.0L700.2,130.6L702.8,127.9L708.0,126.4L713.1,127.9L716.6,132.0L722.6,134.6M722.6,134.6L726.9,132.6L732.1,131.3L739.0,133.3L747.6,133.3L751.0,130.0L757.0,133.3L760.5,136.5L763.1,135.8L760.5,141.8M722.6,134.6L726.1,139.5L730.4,142.4L738.1,143.5L744.1,142.4L751.0,137.1L747.6,133.3M716.6,139.5L716.6,142.9L711.0,145.7L706.2,147.3L704.5,147.3L699.4,148.9L695.1,147.3L694.2,143.5M695.1,139.5L699.4,140.1L706.2,144.0L709.7,142.4L716.6,142.9M685.6,145.7L686.0,148.3L687.3,152.4L689.0,155.3M678.7,148.9L683.9,148.3M681.3,153.4L683.9,153.9L688.2,156.3M684.7,167.2L688.2,167.2L692.5,165.5L695.5,162.8L695.9,161.0M700.2,148.3L700.2,154.4L701.1,155.8L700.7,160.0M708.8,148.3L708.8,151.4L707.5,153.9L705.0,155.8L701.1,155.8M711.4,150.4L712.3,152.9L709.7,157.7L708.0,159.1L707.1,161.0M714.9,149.9L716.6,154.4L720.0,156.8L723.9,158.2L726.9,157.7L731.2,157.3M731.2,157.3L732.5,161.0L735.1,162.8L739.4,162.1L740.7,163.2M732.5,161.0L733.8,164.1L734.7,166.8L738.5,169.4L736.4,172.8M723.9,158.2L724.3,162.8L727.3,163.7M585.7,171.5L585.7,175.7L589.6,176.6L590.0,179.9M578.8,184.5L583.1,182.9M587.9,190.8L588.3,194.3L587.0,196.9L588.7,200.4L588.7,205.0L587.0,210.8L586.6,218.1L585.7,224.9L586.1,232.6M597.8,200.4L593.9,200.4L597.8,205.5L599.9,205.5L597.8,211.8M588.7,200.9L593.9,200.4M568.5,169.4L569.3,166.8L571.1,166.5L571.5,168.1L571.1,169.8L573.7,170.7L575.4,172.4L576.2,174.5M541.8,134.6L565.9,134.6L571.1,135.8L576.2,138.9L579.7,141.2L583.1,139.5L586.6,139.5L588.3,136.5L590.0,139.5M526.3,99.4L526.3,118.1L529.7,120.3L535.8,125.7M649.4,132.0L652.9,133.3L654.6,136.5L659.8,137.1L662.3,135.2L666.6,135.2L671.8,138.9M654.6,136.5L653.7,140.6L650.3,142.4M659.8,127.9L660.6,132.0L658.0,133.3L659.3,135.2M668.4,127.9L668.4,133.3L667.1,134.6" fill="none" stroke="#d9d9d6" stroke-width="0.5" stroke-linejoin="round"/>
<path d="M796.4,212.3L799.2,215.4L801.4,215.6L800.1,217.5L798.4,219.7L797.9,217.0L797.1,214.9Z" fill="#f7d3a0" stroke="#f7d3a0" stroke-width="1"/>
<path d="M796.4,218.6L797.8,219.7L796.7,222.0L794.9,223.7L793.2,225.6L791.1,224.9L792.3,222.6L794.9,220.3Z" fill="#f08f45" stroke="#f08f45" stroke-width="1.2" stroke-linejoin="round"/>
<circle cx="565.5" cy="143.9" r="10.6" fill="#f39a4a" opacity="0.95"/>
<circle cx="563.4" cy="120.2" r="6.2" fill="#f39a4a" opacity="0.95"/>
<circle cx="604.5" cy="189.6" r="4.8" fill="#f39a4a" opacity="0.95"/>
<circle cx="663.5" cy="111.7" r="5.0" fill="#f39a4a" opacity="0.95"/>
<line x1="655.1" y1="146.4" x2="749.4" y2="142.6" stroke="#c4c4c4" stroke-width="0.9"/>
<line x1="643.9" y1="124.9" x2="700.7" y2="49.7" stroke="#c4c4c4" stroke-width="0.9"/>
<circle cx="654.6" cy="133.0" r="13.4" fill="#fff" fill-opacity="0.55" stroke="#bdbdbd" stroke-width="0.9"/>
<circle cx="657.9" cy="130.2" r="4.5" fill="#f39a4a"/>
<circle cx="651.8" cy="135.7" r="4.0" fill="#f39a4a"/>
<circle cx="661.3" cy="134.1" r="4.0" fill="#f39a4a"/>
<circle cx="747.0" cy="84.6" r="58.0" fill="#fff" stroke="#c4c4c4" stroke-width="0.9"/>
<clipPath id="zc"><rect x="707" y="49" width="80" height="78"/></clipPath>
<g clip-path="url(#zc)">
<path d="M706.3,83.2L729.4,77.8L729.4,69.3L724.4,63.5L719.5,54.5L717.8,48.4L718.5,38.2L712.9,31.6L707.9,31.6L704.0,45.2L707.9,54.5L714.5,57.6L714.5,64.1L709.6,67.6L707.9,73.8L714.5,75.5ZM704.6,72.1L704.6,60.5L699.7,52.7L691.4,60.5L691.4,72.1L698.0,75.0ZM694.7,118.8L718.5,117.4L734.3,121.2L735.0,124.5L724.4,135.1L722.8,141.8L717.8,147.5L706.3,150.5L701.3,146.2L694.7,146.2L694.7,137.3ZM747.5,106.6L749.2,115.0L752.5,112.5L759.1,118.8L764.0,123.5L775.9,132.8L777.2,141.8L778.9,137.3L785.5,131.9L777.2,125.9L770.6,121.2L765.0,109.1L769.0,105.6L769.6,101.6L764.0,99.6L759.1,100.1L754.1,104.1L747.5,104.6ZM744.2,102.6L749.5,96.0L756.1,96.5L759.1,100.1L754.1,104.1L747.5,104.6ZM732.7,77.2L737.6,75.0L740.9,66.4L747.5,63.5L744.2,73.3L744.2,78.9L745.2,85.9L743.6,85.9L738.3,83.2ZM771.3,61.7L783.8,55.7L802.0,60.5L803.6,72.1L802.0,80.5L798.7,88.6L786.5,85.9L778.9,80.5L773.9,77.8L772.6,69.3ZM752.5,55.1L751.5,45.2L759.1,37.5L760.1,48.4L765.7,50.2L758.1,57.0ZM764.7,81.6L773.9,77.8L778.9,80.5L786.5,85.9L780.2,90.7L773.9,88.6L769.6,90.7ZM769.6,101.6L777.9,100.1L780.5,95.4L780.2,90.7L797.0,91.8L810.2,93.9L816.8,106.6L816.8,123.5L810.2,132.8L800.3,132.8L793.7,139.6L788.8,130.5L788.8,123.5L777.2,116.4L769.0,106.6Z" fill="#efefec" stroke="#fff" stroke-width="0.8"/>
<path d="M708.6,91.3L719.5,90.2L720.5,84.9L729.4,82.7L732.7,77.2L738.3,83.2L743.6,85.9L751.5,88.6L749.5,96.0L744.2,102.6L747.5,106.6L749.2,115.0L744.2,118.8L737.6,116.4L734.3,121.2L718.5,117.4L720.5,104.1L716.2,97.5L709.6,94.4ZM744.2,73.3L747.5,63.5L752.5,61.7L753.1,55.1L758.1,57.0L767.3,57.6L771.3,61.7L772.6,69.3L773.9,77.8L764.7,81.6L769.6,90.2L767.3,96.5L757.4,97.5L749.5,96.0L751.5,88.6L745.2,85.9L744.2,78.9ZM755.8,98.5L756.1,96.5L767.3,96.5L769.6,90.7L773.9,88.6L780.2,90.7L780.5,95.4L777.9,100.1L770.6,101.6L764.0,99.6L759.1,100.1Z" fill="#f7d3a0" stroke="#fff" stroke-width="0.8"/>
</g>
<circle cx="762.7" cy="74.6" r="7.3" fill="#f39a4a"/>
<circle cx="777.0" cy="94.7" r="5.0" fill="#f39a4a"/>
<circle cx="733.7" cy="99.7" r="1.8" fill="#f39a4a"/>
<rect x="5.3" y="312.3" width="9.5" height="26.5" fill="#f59a97"/>
<rect x="5.3" y="338.8" width="9.5" height="12.2" fill="#e8473f"/>
<rect x="5.3" y="351.0" width="9.5" height="4.8" fill="#f8c4a0"/>
<rect x="5.3" y="355.8" width="9.5" height="7.2" fill="#f29650"/>
<rect x="5.3" y="363.0" width="9.5" height="4.7" fill="#a9c4e3"/>
<rect x="5.3" y="367.7" width="9.5" height="18.9" fill="#6793c9"/>
<rect x="5.3" y="386.6" width="9.5" height="12.1" fill="#cdeed9"/>
<rect x="5.3" y="398.7" width="9.5" height="5.5" fill="#95dbac"/>
<rect x="23.8" y="314.7" width="9.5" height="29.2" fill="#f59a97"/>
<rect x="23.8" y="343.9" width="9.5" height="10.6" fill="#e8473f"/>
<rect x="23.8" y="354.5" width="9.5" height="7.9" fill="#f29650"/>
<rect x="23.8" y="362.4" width="9.5" height="7.9" fill="#a9c4e3"/>
<rect x="23.8" y="370.3" width="9.5" height="18.9" fill="#6793c9"/>
<rect x="23.8" y="389.2" width="9.5" height="10.6" fill="#cdeed9"/>
<rect x="23.8" y="399.8" width="9.5" height="4.6" fill="#95dbac"/>
<rect x="42.7" y="352.9" width="9.5" height="12.9" fill="#f59a97"/>
<rect x="42.7" y="365.8" width="9.5" height="2.6" fill="#e8473f"/>
<rect x="42.7" y="368.4" width="9.5" height="1.2" fill="#f8c4a0"/>
<rect x="42.7" y="369.6" width="9.5" height="4.5" fill="#f29650"/>
<rect x="42.7" y="374.1" width="9.5" height="6.3" fill="#a9c4e3"/>
<rect x="42.7" y="380.4" width="9.5" height="10.7" fill="#6793c9"/>
<rect x="42.7" y="391.1" width="9.5" height="2.9" fill="#cdeed9"/>
<rect x="42.7" y="394.0" width="9.5" height="10.2" fill="#95dbac"/>
<rect x="61.0" y="359.6" width="9.5" height="12.2" fill="#f59a97"/>
<rect x="61.0" y="371.8" width="9.5" height="7.6" fill="#f29650"/>
<rect x="61.0" y="379.4" width="9.5" height="9.5" fill="#a9c4e3"/>
<rect x="61.0" y="388.9" width="9.5" height="5.1" fill="#6793c9"/>
<rect x="61.0" y="394.0" width="9.5" height="4.3" fill="#cdeed9"/>
<rect x="61.0" y="398.3" width="9.5" height="5.9" fill="#95dbac"/>
<rect x="79.4" y="360.1" width="9.5" height="9.5" fill="#f59a97"/>
<rect x="79.4" y="369.6" width="9.5" height="11.4" fill="#e8473f"/>
<rect x="79.4" y="381.0" width="9.5" height="2.2" fill="#f8c4a0"/>
<rect x="79.4" y="383.2" width="9.5" height="10.8" fill="#6793c9"/>
<rect x="79.4" y="394.0" width="9.5" height="5.3" fill="#cdeed9"/>
<rect x="79.4" y="399.3" width="9.5" height="4.9" fill="#95dbac"/>
<rect x="98.2" y="368.0" width="9.5" height="11.4" fill="#f59a97"/>
<rect x="98.2" y="379.4" width="9.5" height="5.1" fill="#e8473f"/>
<rect x="98.2" y="384.5" width="9.5" height="5.2" fill="#f29650"/>
<rect x="98.2" y="389.7" width="9.5" height="6.7" fill="#6793c9"/>
<rect x="98.2" y="396.4" width="9.5" height="2.1" fill="#cdeed9"/>
<rect x="98.2" y="398.5" width="9.5" height="5.7" fill="#95dbac"/>
<rect x="117.0" y="373.2" width="9.5" height="14.9" fill="#f59a97"/>
<rect x="117.0" y="388.1" width="9.5" height="1.6" fill="#f8c4a0"/>
<rect x="117.0" y="389.7" width="9.5" height="4.1" fill="#a9c4e3"/>
<rect x="117.0" y="393.8" width="9.5" height="9.3" fill="#6793c9"/>
<rect x="117.0" y="403.1" width="9.5" height="1.1" fill="#cdeed9"/>
<rect x="135.4" y="400.3" width="9.5" height="3.3" fill="#e7a46d"/>
<rect x="153.9" y="404.4" width="9.5" height="1.5" fill="#e49aa6"/>
<text x="-2" y="280" font-family="Liberation Sans, sans-serif" font-size="9" font-weight="bold" fill="#111" stroke="#111" stroke-width="0.3">Return by Prod Type</text>
<text x="62.6" y="417.5" font-family="Liberation Sans, sans-serif" font-size="7.5" fill="#666" text-anchor="end">Colored by Country</text>
<text x="202.3" y="280" font-family="Liberation Sans, sans-serif" font-size="9" font-weight="bold" fill="#111" stroke="#111" stroke-width="0.3">Return Reasons</text>
<text x="206.9" y="305.3" font-family="Liberation Sans, sans-serif" font-size="7.5" fill="#555">Customer Reported Reasons</text>
<text x="206.9" y="368.4" font-family="Liberation Sans, sans-serif" font-size="7.5" fill="#555">Internal Determined Reasons</text>
<line x1="209" y1="357.5" x2="369.6" y2="357.5" stroke="#dcdcdc" stroke-width="1"/>
<rect x="211.5" y="315.1" width="5.6" height="4.0" fill="#6793c9"/>
<rect x="217.1" y="315.1" width="2.5" height="4.0" fill="#a9c4e3"/>
<rect x="219.6" y="315.1" width="5.6" height="4.0" fill="#f29650"/>
<rect x="225.2" y="315.1" width="2.4" height="4.0" fill="#e8473f"/>
<rect x="227.6" y="315.1" width="8.7" height="4.0" fill="#f59a97"/>
<rect x="211.5" y="324.2" width="3.6" height="4.0" fill="#95dbac"/>
<rect x="215.1" y="324.2" width="3.0" height="4.0" fill="#cdeed9"/>
<rect x="218.1" y="324.2" width="9.5" height="4.0" fill="#6793c9"/>
<rect x="227.6" y="324.2" width="2.7" height="4.0" fill="#a9c4e3"/>
<rect x="230.3" y="324.2" width="5.0" height="4.0" fill="#f29650"/>
<rect x="235.3" y="324.2" width="3.1" height="4.0" fill="#e8473f"/>
<rect x="238.4" y="324.2" width="12.7" height="4.0" fill="#f59a97"/>
<rect x="211.5" y="333.3" width="3.6" height="4.0" fill="#95dbac"/>
<rect x="215.1" y="333.3" width="5.7" height="4.0" fill="#cdeed9"/>
<rect x="220.8" y="333.3" width="20.2" height="4.0" fill="#6793c9"/>
<rect x="241.0" y="333.3" width="5.5" height="4.0" fill="#a9c4e3"/>
<rect x="246.5" y="333.3" width="10.7" height="4.0" fill="#f29650"/>
<rect x="257.2" y="333.3" width="13.5" height="4.0" fill="#e8473f"/>
<rect x="270.7" y="333.3" width="17.6" height="4.0" fill="#f59a97"/>
<rect x="211.5" y="342.4" width="21.8" height="4.0" fill="#95dbac"/>
<rect x="233.3" y="342.4" width="21.2" height="4.0" fill="#cdeed9"/>
<rect x="254.5" y="342.4" width="26.9" height="4.0" fill="#6793c9"/>
<rect x="281.4" y="342.4" width="6.9" height="4.0" fill="#a9c4e3"/>
<rect x="288.3" y="342.4" width="12.7" height="4.0" fill="#f29650"/>
<rect x="301.0" y="342.4" width="3.1" height="4.0" fill="#f8c4a0"/>
<rect x="304.1" y="342.4" width="16.2" height="4.0" fill="#e8473f"/>
<rect x="320.3" y="342.4" width="42.4" height="4.0" fill="#f59a97"/>
<rect x="216.7" y="378.4" width="3.5" height="3.5" fill="#95dbac"/>
<rect x="220.2" y="378.4" width="3.4" height="3.5" fill="#cdeed9"/>
<rect x="223.6" y="378.4" width="1.6" height="3.5" fill="#6793c9"/>
<rect x="225.2" y="378.4" width="2.0" height="3.5" fill="#a9c4e3"/>
<rect x="227.2" y="378.4" width="2.5" height="3.5" fill="#f29650"/>
<rect x="229.7" y="378.4" width="3.6" height="3.5" fill="#e8473f"/>
<rect x="233.3" y="378.4" width="3.7" height="3.5" fill="#f59a97"/>
<rect x="216.7" y="385.4" width="4.5" height="3.5" fill="#95dbac"/>
<rect x="221.2" y="385.4" width="4.0" height="3.5" fill="#cdeed9"/>
<rect x="225.2" y="385.4" width="8.1" height="3.5" fill="#6793c9"/>
<rect x="233.3" y="385.4" width="2.0" height="3.5" fill="#a9c4e3"/>
<rect x="235.3" y="385.4" width="2.1" height="3.5" fill="#f29650"/>
<rect x="237.4" y="385.4" width="3.0" height="3.5" fill="#e8473f"/>
<rect x="240.4" y="385.4" width="10.1" height="3.5" fill="#f59a97"/>
<rect x="216.7" y="392.4" width="4.1" height="3.5" fill="#95dbac"/>
<rect x="220.8" y="392.4" width="10.1" height="3.5" fill="#cdeed9"/>
<rect x="230.9" y="392.4" width="16.6" height="3.5" fill="#6793c9"/>
<rect x="247.5" y="392.4" width="3.0" height="3.5" fill="#a9c4e3"/>
<rect x="250.5" y="392.4" width="4.7" height="3.5" fill="#f29650"/>
<rect x="255.2" y="392.4" width="7.4" height="3.5" fill="#e8473f"/>
<rect x="262.6" y="392.4" width="12.2" height="3.5" fill="#f59a97"/>
<rect x="216.7" y="399.9" width="11.6" height="3.5" fill="#95dbac"/>
<rect x="228.3" y="399.9" width="13.5" height="3.5" fill="#cdeed9"/>
<rect x="241.8" y="399.9" width="13.4" height="3.5" fill="#6793c9"/>
<rect x="255.2" y="399.9" width="8.4" height="3.5" fill="#a9c4e3"/>
<rect x="263.6" y="399.9" width="10.2" height="3.5" fill="#f29650"/>
<rect x="273.8" y="399.9" width="13.1" height="3.5" fill="#e8473f"/>
<rect x="286.9" y="399.9" width="35.0" height="3.5" fill="#f59a97"/>
<rect x="216.7" y="407.2" width="13.6" height="3.5" fill="#95dbac"/>
<rect x="230.3" y="407.2" width="5.0" height="3.5" fill="#cdeed9"/>
<rect x="235.3" y="407.2" width="38.1" height="3.5" fill="#6793c9"/>
<rect x="273.4" y="407.2" width="11.5" height="3.5" fill="#a9c4e3"/>
<rect x="284.9" y="407.2" width="20.2" height="3.5" fill="#f29650"/>
<rect x="305.1" y="407.2" width="2.0" height="3.5" fill="#f8c4a0"/>
<rect x="307.1" y="407.2" width="19.2" height="3.5" fill="#e8473f"/>
<rect x="326.3" y="407.2" width="42.5" height="3.5" fill="#f59a97"/>
<text x="414.9" y="280" font-family="Liberation Sans, sans-serif" font-size="9" font-weight="bold" fill="#111" stroke="#111" stroke-width="0.3">Return by WH &amp; Dest Country</text>
<text x="515.5" y="311.5" font-family="Liberation Sans, sans-serif" font-size="7" letter-spacing="0.55" fill="#999" text-anchor="end">United States</text>
<rect x="517.9" y="306.4" width="1.5" height="5" fill="#e8473f"/>
<text x="515.5" y="321.6" font-family="Liberation Sans, sans-serif" font-size="7" letter-spacing="0.55" fill="#999" text-anchor="end">New Zealand</text>
<rect x="517.9" y="316.5" width="1.5" height="5" fill="#f29650"/>
<text x="515.5" y="331.6" font-family="Liberation Sans, sans-serif" font-size="7" letter-spacing="0.55" fill="#999" text-anchor="end">United States</text>
<rect x="517.9" y="326.5" width="1.5" height="5" fill="#e8473f"/>
<text x="515.5" y="341.4" font-family="Liberation Sans, sans-serif" font-size="7" letter-spacing="0.55" fill="#999" text-anchor="end">Brazil</text>
<rect x="517.9" y="336.3" width="28.1" height="5" fill="#cdeed9"/>
<text x="515.5" y="351.1" font-family="Liberation Sans, sans-serif" font-size="7" letter-spacing="0.55" fill="#999" text-anchor="end">United States</text>
<rect x="517.9" y="346.0" width="45.9" height="5" fill="#f59a97"/>
<text x="515.5" y="360.9" font-family="Liberation Sans, sans-serif" font-size="7" letter-spacing="0.55" fill="#999" text-anchor="end">Canada</text>
<rect x="517.9" y="355.8" width="60.6" height="5" fill="#6793c9"/>
<text x="515.5" y="370.9" font-family="Liberation Sans, sans-serif" font-size="7" letter-spacing="0.55" fill="#999" text-anchor="end">United States</text>
<rect x="517.9" y="365.8" width="31.0" height="5" fill="#f59a97"/>
<text x="515.5" y="380.6" font-family="Liberation Sans, sans-serif" font-size="7" letter-spacing="0.55" fill="#999" text-anchor="end">Sweden</text>
<rect x="517.9" y="375.5" width="34.5" height="5" fill="#e8473f"/>
<text x="515.5" y="390.4" font-family="Liberation Sans, sans-serif" font-size="7" letter-spacing="0.55" fill="#999" text-anchor="end">Germany</text>
<rect x="517.9" y="385.3" width="29.6" height="5" fill="#f29650"/>
<text x="515.5" y="400.2" font-family="Liberation Sans, sans-serif" font-size="7" letter-spacing="0.55" fill="#999" text-anchor="end">France</text>
<rect x="517.9" y="395.1" width="21.5" height="5" fill="#a9c4e3"/>
<text x="515.5" y="410.2" font-family="Liberation Sans, sans-serif" font-size="7" letter-spacing="0.55" fill="#999" text-anchor="end">Austria</text>
<rect x="517.9" y="405.1" width="30.1" height="5" fill="#95dbac"/>
<text x="462.8" y="316.6" font-family="Liberation Sans, sans-serif" font-size="7.5" letter-spacing="0.6" fill="#666" text-anchor="end">California</text>
<text x="461.4" y="335.8" font-family="Liberation Sans, sans-serif" font-size="7.5" letter-spacing="0.6" fill="#666" text-anchor="end">Texas</text>
<text x="461.4" y="355.3" font-family="Liberation Sans, sans-serif" font-size="7.5" letter-spacing="0.6" fill="#666" text-anchor="end">Kansas</text>
<text x="462.8" y="390.3" font-family="Liberation Sans, sans-serif" font-size="7.5" letter-spacing="0.6" fill="#666" text-anchor="end">New Jersey</text>
<line x1="415.5" y1="323.5" x2="596.3" y2="323.5" stroke="#8a8a8a" stroke-width="1"/>
<line x1="415.5" y1="343.3" x2="596.3" y2="343.3" stroke="#8a8a8a" stroke-width="1"/>
<line x1="415.5" y1="362.9" x2="596.3" y2="362.9" stroke="#8a8a8a" stroke-width="1"/>
<line x1="415.5" y1="412.2" x2="596.3" y2="412.2" stroke="#8a8a8a" stroke-width="1"/>
<line x1="517.5" y1="304" x2="517.5" y2="412" stroke="#e8e8e8" stroke-width="0.8"/>
<line x1="594.8" y1="304" x2="594.8" y2="412" stroke="#e0e0e0" stroke-width="0.8" stroke-dasharray="1,1"/>
<text x="715" y="285.6" font-family="Liberation Sans, sans-serif" font-size="7.5" fill="#555" text-anchor="middle">Total Return &amp; Trend</text>
<text x="691 700.4 712 721.3" y="310.5" font-family="Liberation Sans, sans-serif" font-size="17.5" font-weight="bold" fill="#151515" stroke="#151515" stroke-width="0.5">150K</text>
<rect x="689.5" y="307.7" width="5.0" height="4.3" fill="#fff"/><rect x="697.6" y="307.7" width="2.4" height="4.3" fill="#fff"/>
<polyline points="645.2,410.9 681.9,364.9 716.9,357.7 752.8,339.1 788.7,367.8" fill="none" stroke="#f4a09d" stroke-width="1.3"/>
<polyline points="645.2,410.0 681.9,373.5 716.9,368.7 752.8,378.4 788.7,370.7" fill="none" stroke="#5d8fc8" stroke-width="1.3"/>
<polyline points="681.9,389.4 716.9,391.6 752.8,406.5 788.7,406.5" fill="none" stroke="#a9bedc" stroke-width="1.3"/>
<polyline points="645.2,410.8 681.9,391.0 716.9,402.7 752.8,387.0 788.7,397.4" fill="none" stroke="#9dd8ae" stroke-width="1.3"/>
<polyline points="645.2,411.7 681.9,390.8 716.9,406.5 752.8,388.0 788.7,386.5" fill="none" stroke="#f2a65a" stroke-width="1.3"/>
<polyline points="645.2,411.5 681.9,388.0 716.9,395.6 752.8,395.0 788.7,386.5" fill="none" stroke="#e06a50" stroke-width="1.3"/>
<polyline points="681.9,411.5 752.8,405.8" fill="none" stroke="#f8c8a0" stroke-width="1.3"/>
<polyline points="645.2,411.7 681.9,392.5 716.9,395.0 752.8,393.0 788.7,387.0" fill="none" stroke="#f0905a" stroke-width="1.3"/>
<text x="-1" y="456.4" font-family="Liberation Sans, sans-serif" font-size="9" font-weight="bold" fill="#111" stroke="#111" stroke-width="0.3">Avg Shelf Time by Prod</text>
<rect x="2.9" y="478.8" width="25.0" height="62" fill="#f4f4f4"/>
<rect x="27.9" y="478.8" width="23.6" height="62" fill="#eeeeee"/>
<rect x="51.5" y="478.8" width="23.5" height="62" fill="#f4f4f4"/>
<rect x="75.0" y="478.8" width="23.5" height="62" fill="#eeeeee"/>
<rect x="98.5" y="478.8" width="23.5" height="62" fill="#f4f4f4"/>
<rect x="122.0" y="478.8" width="23.6" height="62" fill="#eeeeee"/>
<rect x="145.6" y="478.8" width="24.4" height="62" fill="#f4f4f4"/>
<rect x="170.0" y="478.8" width="24.0" height="62" fill="#eeeeee"/>
<rect x="194.0" y="478.8" width="23.6" height="62" fill="#f4f4f4"/>
<circle cx="14.7" cy="500.9" r="2.2" fill="#fcd9bd" fill-opacity="0.6" stroke="#f0944c" stroke-width="0.85"/>
<circle cx="14.7" cy="510.0" r="2.2" fill="#fcd9bd" fill-opacity="0.6" stroke="#f0944c" stroke-width="0.85"/>
<circle cx="14.7" cy="511.5" r="2.2" fill="#fcd9bd" fill-opacity="0.6" stroke="#f0944c" stroke-width="0.85"/>
<circle cx="14.7" cy="526.6" r="2.2" fill="#fcd9bd" fill-opacity="0.6" stroke="#f0944c" stroke-width="0.85"/>
<circle cx="14.7" cy="531.8" r="2.2" fill="#fcd9bd" fill-opacity="0.6" stroke="#f0944c" stroke-width="0.85"/>
<circle cx="14.7" cy="537.0" r="2.2" fill="#fcd9bd" fill-opacity="0.6" stroke="#f0944c" stroke-width="0.85"/>
<circle cx="38.5" cy="517.8" r="2.2" fill="#fcd9bd" fill-opacity="0.6" stroke="#f0944c" stroke-width="0.85"/>
<circle cx="38.5" cy="522.5" r="2.2" fill="#fcd9bd" fill-opacity="0.6" stroke="#f0944c" stroke-width="0.85"/>
<circle cx="38.5" cy="525.1" r="2.2" fill="#fcd9bd" fill-opacity="0.6" stroke="#f0944c" stroke-width="0.85"/>
<circle cx="38.5" cy="527.7" r="2.2" fill="#fcd9bd" fill-opacity="0.6" stroke="#f0944c" stroke-width="0.85"/>
<circle cx="38.5" cy="530.3" r="2.2" fill="#fcd9bd" fill-opacity="0.6" stroke="#f0944c" stroke-width="0.85"/>
<circle cx="38.5" cy="532.9" r="2.2" fill="#fcd9bd" fill-opacity="0.6" stroke="#f0944c" stroke-width="0.85"/>
<circle cx="38.5" cy="535.5" r="2.2" fill="#fcd9bd" fill-opacity="0.6" stroke="#f0944c" stroke-width="0.85"/>
<circle cx="38.5" cy="538.1" r="2.2" fill="#fcd9bd" fill-opacity="0.6" stroke="#f0944c" stroke-width="0.85"/>
<circle cx="38.5" cy="540.7" r="2.2" fill="#fcd9bd" fill-opacity="0.6" stroke="#f0944c" stroke-width="0.85"/>
<circle cx="62.5" cy="514.1" r="2.2" fill="#fcd9bd" fill-opacity="0.6" stroke="#f0944c" stroke-width="0.85"/>
<circle cx="62.5" cy="516.7" r="2.2" fill="#fcd9bd" fill-opacity="0.6" stroke="#f0944c" stroke-width="0.85"/>
<circle cx="62.5" cy="519.3" r="2.2" fill="#fcd9bd" fill-opacity="0.6" stroke="#f0944c" stroke-width="0.85"/>
<circle cx="62.5" cy="521.9" r="2.2" fill="#fcd9bd" fill-opacity="0.6" stroke="#f0944c" stroke-width="0.85"/>
<circle cx="62.5" cy="524.5" r="2.2" fill="#fcd9bd" fill-opacity="0.6" stroke="#f0944c" stroke-width="0.85"/>
<circle cx="62.5" cy="527.1" r="2.2" fill="#fcd9bd" fill-opacity="0.6" stroke="#f0944c" stroke-width="0.85"/>
<circle cx="62.5" cy="529.7" r="2.2" fill="#fcd9bd" fill-opacity="0.6" stroke="#f0944c" stroke-width="0.85"/>
<circle cx="62.5" cy="532.3" r="2.2" fill="#fcd9bd" fill-opacity="0.6" stroke="#f0944c" stroke-width="0.85"/>
<circle cx="62.5" cy="534.9" r="2.2" fill="#fcd9bd" fill-opacity="0.6" stroke="#f0944c" stroke-width="0.85"/>
<circle cx="62.5" cy="537.5" r="2.2" fill="#fcd9bd" fill-opacity="0.6" stroke="#f0944c" stroke-width="0.85"/>
<circle cx="62.5" cy="540.1" r="2.2" fill="#fcd9bd" fill-opacity="0.6" stroke="#f0944c" stroke-width="0.85"/>
<circle cx="86.0" cy="520.7" r="2.2" fill="#fcd9bd" fill-opacity="0.6" stroke="#f0944c" stroke-width="0.85"/>
<circle cx="86.0" cy="523.3" r="2.2" fill="#fcd9bd" fill-opacity="0.6" stroke="#f0944c" stroke-width="0.85"/>
<circle cx="86.0" cy="525.9" r="2.2" fill="#fcd9bd" fill-opacity="0.6" stroke="#f0944c" stroke-width="0.85"/>
<circle cx="86.0" cy="528.5" r="2.2" fill="#fcd9bd" fill-opacity="0.6" stroke="#f0944c" stroke-width="0.85"/>
<circle cx="86.0" cy="531.1" r="2.2" fill="#fcd9bd" fill-opacity="0.6" stroke="#f0944c" stroke-width="0.85"/>
<circle cx="86.0" cy="533.7" r="2.2" fill="#fcd9bd" fill-opacity="0.6" stroke="#f0944c" stroke-width="0.85"/>
<circle cx="86.0" cy="536.3" r="2.2" fill="#fcd9bd" fill-opacity="0.6" stroke="#f0944c" stroke-width="0.85"/>
<circle cx="86.0" cy="538.9" r="2.2" fill="#fcd9bd" fill-opacity="0.6" stroke="#f0944c" stroke-width="0.85"/>
<circle cx="110.0" cy="520.0" r="2.2" fill="#fcd9bd" fill-opacity="0.6" stroke="#f0944c" stroke-width="0.85"/>
<circle cx="110.0" cy="522.6" r="2.2" fill="#fcd9bd" fill-opacity="0.6" stroke="#f0944c" stroke-width="0.85"/>
<circle cx="110.0" cy="525.2" r="2.2" fill="#fcd9bd" fill-opacity="0.6" stroke="#f0944c" stroke-width="0.85"/>
<circle cx="110.0" cy="527.8" r="2.2" fill="#fcd9bd" fill-opacity="0.6" stroke="#f0944c" stroke-width="0.85"/>
<circle cx="110.0" cy="530.4" r="2.2" fill="#fcd9bd" fill-opacity="0.6" stroke="#f0944c" stroke-width="0.85"/>
<circle cx="110.0" cy="533.0" r="2.2" fill="#fcd9bd" fill-opacity="0.6" stroke="#f0944c" stroke-width="0.85"/>
<circle cx="110.0" cy="535.6" r="2.2" fill="#fcd9bd" fill-opacity="0.6" stroke="#f0944c" stroke-width="0.85"/>
<circle cx="110.0" cy="538.2" r="2.2" fill="#fcd9bd" fill-opacity="0.6" stroke="#f0944c" stroke-width="0.85"/>
<circle cx="110.0" cy="540.8" r="2.2" fill="#fcd9bd" fill-opacity="0.6" stroke="#f0944c" stroke-width="0.85"/>
<circle cx="133.8" cy="513.8" r="2.2" fill="#fcd9bd" fill-opacity="0.6" stroke="#f0944c" stroke-width="0.85"/>
<circle cx="133.8" cy="521.8" r="2.2" fill="#fcd9bd" fill-opacity="0.6" stroke="#f0944c" stroke-width="0.85"/>
<circle cx="133.8" cy="524.4" r="2.2" fill="#fcd9bd" fill-opacity="0.6" stroke="#f0944c" stroke-width="0.85"/>
<circle cx="133.8" cy="527.0" r="2.2" fill="#fcd9bd" fill-opacity="0.6" stroke="#f0944c" stroke-width="0.85"/>
<circle cx="133.8" cy="529.6" r="2.2" fill="#fcd9bd" fill-opacity="0.6" stroke="#f0944c" stroke-width="0.85"/>
<circle cx="133.8" cy="532.2" r="2.2" fill="#fcd9bd" fill-opacity="0.6" stroke="#f0944c" stroke-width="0.85"/>
<circle cx="133.8" cy="534.8" r="2.2" fill="#fcd9bd" fill-opacity="0.6" stroke="#f0944c" stroke-width="0.85"/>
<circle cx="133.8" cy="537.4" r="2.2" fill="#fcd9bd" fill-opacity="0.6" stroke="#f0944c" stroke-width="0.85"/>
<circle cx="133.8" cy="540.0" r="2.2" fill="#fcd9bd" fill-opacity="0.6" stroke="#f0944c" stroke-width="0.85"/>
<circle cx="157.4" cy="509.5" r="2.2" fill="#fcd9bd" fill-opacity="0.6" stroke="#f0944c" stroke-width="0.85"/>
<circle cx="157.4" cy="512.1" r="2.2" fill="#fcd9bd" fill-opacity="0.6" stroke="#f0944c" stroke-width="0.85"/>
<circle cx="157.4" cy="514.7" r="2.2" fill="#fcd9bd" fill-opacity="0.6" stroke="#f0944c" stroke-width="0.85"/>
<circle cx="157.4" cy="517.3" r="2.2" fill="#fcd9bd" fill-opacity="0.6" stroke="#f0944c" stroke-width="0.85"/>
<circle cx="157.4" cy="519.9" r="2.2" fill="#fcd9bd" fill-opacity="0.6" stroke="#f0944c" stroke-width="0.85"/>
<circle cx="157.4" cy="522.5" r="2.2" fill="#fcd9bd" fill-opacity="0.6" stroke="#f0944c" stroke-width="0.85"/>
<circle cx="157.4" cy="525.1" r="2.2" fill="#fcd9bd" fill-opacity="0.6" stroke="#f0944c" stroke-width="0.85"/>
<circle cx="157.4" cy="527.7" r="2.2" fill="#fcd9bd" fill-opacity="0.6" stroke="#f0944c" stroke-width="0.85"/>
<circle cx="157.4" cy="530.3" r="2.2" fill="#fcd9bd" fill-opacity="0.6" stroke="#f0944c" stroke-width="0.85"/>
<circle cx="157.4" cy="532.9" r="2.2" fill="#fcd9bd" fill-opacity="0.6" stroke="#f0944c" stroke-width="0.85"/>
<circle cx="157.4" cy="535.5" r="2.2" fill="#fcd9bd" fill-opacity="0.6" stroke="#f0944c" stroke-width="0.85"/>
<circle cx="157.4" cy="538.1" r="2.2" fill="#fcd9bd" fill-opacity="0.6" stroke="#f0944c" stroke-width="0.85"/>
<circle cx="157.4" cy="540.7" r="2.2" fill="#fcd9bd" fill-opacity="0.6" stroke="#f0944c" stroke-width="0.85"/>
<circle cx="181.5" cy="517.8" r="2.2" fill="#fcd9bd" fill-opacity="0.6" stroke="#f0944c" stroke-width="0.85"/>
<circle cx="181.5" cy="520.4" r="2.2" fill="#fcd9bd" fill-opacity="0.6" stroke="#f0944c" stroke-width="0.85"/>
<circle cx="181.5" cy="523.0" r="2.2" fill="#fcd9bd" fill-opacity="0.6" stroke="#f0944c" stroke-width="0.85"/>
<circle cx="181.5" cy="525.6" r="2.2" fill="#fcd9bd" fill-opacity="0.6" stroke="#f0944c" stroke-width="0.85"/>
<circle cx="181.5" cy="528.2" r="2.2" fill="#fcd9bd" fill-opacity="0.6" stroke="#f0944c" stroke-width="0.85"/>
<circle cx="181.5" cy="530.8" r="2.2" fill="#fcd9bd" fill-opacity="0.6" stroke="#f0944c" stroke-width="0.85"/>
<circle cx="181.5" cy="533.4" r="2.2" fill="#fcd9bd" fill-opacity="0.6" stroke="#f0944c" stroke-width="0.85"/>
<circle cx="181.5" cy="536.0" r="2.2" fill="#fcd9bd" fill-opacity="0.6" stroke="#f0944c" stroke-width="0.85"/>
<circle cx="181.5" cy="538.6" r="2.2" fill="#fcd9bd" fill-opacity="0.6" stroke="#f0944c" stroke-width="0.85"/>
<circle cx="205.3" cy="484.4" r="2.2" fill="#fcd9bd" fill-opacity="0.6" stroke="#f0944c" stroke-width="0.85"/>
<circle cx="205.3" cy="495.5" r="2.2" fill="#fcd9bd" fill-opacity="0.6" stroke="#f0944c" stroke-width="0.85"/>
<circle cx="205.3" cy="500.3" r="2.2" fill="#fcd9bd" fill-opacity="0.6" stroke="#f0944c" stroke-width="0.85"/>
<circle cx="205.3" cy="512.2" r="2.2" fill="#fcd9bd" fill-opacity="0.6" stroke="#f0944c" stroke-width="0.85"/>
<circle cx="205.3" cy="517.0" r="2.2" fill="#fcd9bd" fill-opacity="0.6" stroke="#f0944c" stroke-width="0.85"/>
<circle cx="205.3" cy="521.0" r="2.2" fill="#fcd9bd" fill-opacity="0.6" stroke="#f0944c" stroke-width="0.85"/>
<circle cx="205.3" cy="525.0" r="2.2" fill="#fcd9bd" fill-opacity="0.6" stroke="#f0944c" stroke-width="0.85"/>
<circle cx="205.3" cy="528.1" r="2.2" fill="#fcd9bd" fill-opacity="0.6" stroke="#f0944c" stroke-width="0.85"/>
<circle cx="205.3" cy="539.3" r="2.2" fill="#fcd9bd" fill-opacity="0.6" stroke="#f0944c" stroke-width="0.85"/>
<text x="259.5" y="455.8" font-family="Liberation Sans, sans-serif" font-size="9" font-weight="bold" fill="#111" stroke="#111" stroke-width="0.3">Stocked vs Made-to-Order</text>
<line x1="264.7" y1="478.8" x2="264.7" y2="545" stroke="#eeeeee" stroke-width="0.8"/>
<line x1="296.1" y1="478.8" x2="296.1" y2="545" stroke="#eeeeee" stroke-width="0.8"/>
<line x1="327.1" y1="478.8" x2="327.1" y2="545" stroke="#eeeeee" stroke-width="0.8"/>
<line x1="358.4" y1="478.8" x2="358.4" y2="545" stroke="#eeeeee" stroke-width="0.8"/>
<line x1="389.6" y1="478.8" x2="389.6" y2="545" stroke="#eeeeee" stroke-width="0.8"/>
<line x1="420.3" y1="478.8" x2="420.3" y2="545" stroke="#eeeeee" stroke-width="0.8"/>
<line x1="450.8" y1="478.8" x2="450.8" y2="545" stroke="#eeeeee" stroke-width="0.8"/>
<line x1="482.2" y1="478.8" x2="482.2" y2="545" stroke="#eeeeee" stroke-width="0.8"/>
<line x1="512.8" y1="478.8" x2="512.8" y2="545" stroke="#eeeeee" stroke-width="0.8"/>
<line x1="544.2" y1="478.8" x2="544.2" y2="545" stroke="#eeeeee" stroke-width="0.8"/>
<clipPath id="lc"><rect x="250" y="470" width="294" height="70"/></clipPath><g clip-path="url(#lc)">
<line x1="264.7" y1="533" x2="544.2" y2="533" stroke="#eeeeee" stroke-width="0.8"/>
<text transform="translate(279.3,531.5) rotate(-45)" font-family="Liberation Sans, sans-serif" font-size="7" fill="#555">Alloy Specialty</text>
<text transform="translate(309.5,531.5) rotate(-45)" font-family="Liberation Sans, sans-serif" font-size="7" fill="#555">Consumable</text>
<text transform="translate(340.9,531.5) rotate(-45)" font-family="Liberation Sans, sans-serif" font-size="7" fill="#555">Consumables</text>
<text transform="translate(371.1,531.5) rotate(-45)" font-family="Liberation Sans, sans-serif" font-size="7" fill="#555">Electronic Control</text>
<text transform="translate(401.7,531.5) rotate(-45)" font-family="Liberation Sans, sans-serif" font-size="7" fill="#555">Industrial Tools</text>
<text transform="translate(433.0,531.5) rotate(-45)" font-family="Liberation Sans, sans-serif" font-size="7" fill="#555">Machinery</text>
<text transform="translate(464.4,531.5) rotate(-45)" font-family="Liberation Sans, sans-serif" font-size="7" fill="#555">Protection Gears</text>
<text transform="translate(495.0,531.5) rotate(-45)" font-family="Liberation Sans, sans-serif" font-size="7" fill="#555">Standard Parts</text>
<text transform="translate(519.3,531.5) rotate(-45)" font-family="Liberation Sans, sans-serif" font-size="7" fill="#555">Test Equipment</text>
</g>
<text x="584.7" y="456.4" font-family="Liberation Sans, sans-serif" font-size="9" font-weight="bold" fill="#111" stroke="#111" stroke-width="0.3">Made-to-Order Plan vs Actual Time</text>
<rect x="597.1" y="516.7" width="5.8" height="28.3" fill="#a7e0bf"/>
<rect x="602.9" y="507.0" width="5.6" height="38.0" fill="#ccefdb"/>
<rect x="619.5" y="509.2" width="5.8" height="35.8" fill="#a7e0bf"/>
<rect x="625.3" y="502.2" width="5.6" height="42.8" fill="#ccefdb"/>
<rect x="642.2" y="509.8" width="5.8" height="35.2" fill="#a7e0bf"/>
<rect x="648.0" y="502.8" width="5.6" height="42.2" fill="#ccefdb"/>
<rect x="665.0" y="515.8" width="5.8" height="29.2" fill="#a7e0bf"/>
<rect x="670.8" y="507.6" width="5.6" height="37.4" fill="#ccefdb"/>
<rect x="687.0" y="512.5" width="5.8" height="32.5" fill="#a7e0bf"/>
<rect x="692.8" y="505.2" width="5.6" height="39.8" fill="#ccefdb"/>
<rect x="710.0" y="519.7" width="5.8" height="25.3" fill="#a7e0bf"/>
<rect x="715.8" y="510.7" width="5.6" height="34.3" fill="#ccefdb"/>
<rect x="732.4" y="519.7" width="5.8" height="25.3" fill="#a7e0bf"/>
<rect x="738.2" y="512.8" width="5.6" height="32.2" fill="#ccefdb"/>
<rect x="755.1" y="514.3" width="5.8" height="30.7" fill="#a7e0bf"/>
<rect x="760.9" y="507.0" width="5.6" height="38.0" fill="#ccefdb"/>
<rect x="777.8" y="482.8" width="5.8" height="62.2" fill="#a7e0bf"/>
<rect x="783.6" y="482.8" width="5.6" height="62.2" fill="#ccefdb"/>
<rect x="0" y="0" width="816" height="40" fill="#000"/>
<rect x="0" y="540" width="816" height="42" fill="#000"/></g></svg>
</body></html>
